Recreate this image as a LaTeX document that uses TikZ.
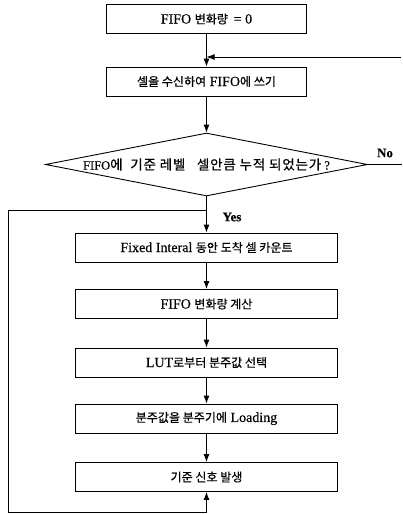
\documentclass[tikz,border=0pt]{standalone}
\usepackage{fontspec}
\setmainfont[FakeBold=0.4]{Liberation Serif}
\newfontfamily\krfont[Scale=0.86,FakeBold=0.5]{Noto Sans CJK KR}
\newfontfamily\krdfont[Scale=1.08,FakeBold=0.5,LetterSpace=6]{Noto Sans CJK KR}
\newcommand\K[1]{{\krfont #1}}
\newcommand\KD[1]{{\krdfont #1}}
\usetikzlibrary{shapes.geometric,arrows.meta}
\begin{document}
\begin{tikzpicture}[x=1pt,y=-1pt,
  every node/.style={font=\fontsize{14}{16}\selectfont},
  box/.style={draw,line width=0.9pt,inner sep=0pt,minimum height=29pt},
  narrowbox/.style={box,minimum width=200pt},
  widebox/.style={box,minimum width=262pt},
  decision/.style={draw,line width=0.9pt,diamond,aspect=5.1,inner sep=0pt,minimum width=322pt,minimum height=63pt,font=\fontsize{12.5}{14}\selectfont},
  flow/.style={line width=0.9pt,-{Latex[length=8pt,width=6pt]}},
  plain/.style={line width=0.9pt},
  lbl/.style={font=\fontsize{13}{15}\selectfont\bfseries}]
\useasboundingbox (0,0) rectangle (402,514);
\node[narrowbox] (b1) at (206.5,19) {FIFO \K{변화량} \,= 0};
\node[narrowbox] (b2) at (206.5,81.5) {\K{셀을 수신하여} FIFO\K{에 쓰기}};
\node[decision] (d) at (206.5,164.5) {FIFO\KD{에\ \ 기준\ 레벨\ \ \ 셀안큼\ 누적\ 되었는가}\ ?};
\node[widebox] (b3) at (206.5,247.5) {Fixed Interal \K{동안 도착 셀 카운트}};
\node[widebox] (b4) at (206.5,304) {FIFO \K{변화량 계산}};
\node[widebox] (b5) at (206.5,362.5) {LUT\K{로부터 분주값 선택}};
\node[widebox] (b6) at (206.5,418.5) {\K{분주값을 분주기에} Loading};
\node[widebox] (b7) at (206.5,477) {\K{기준 신호 발생}};
\coordinate (m) at (206.5,57);
\coordinate (r) at (401,57);
\coordinate (no) at (402,164.5);
\coordinate (j) at (206.5,210);
\coordinate (lt) at (8,210);
\coordinate (lb) at (8,512);
\coordinate (bb) at (206.5,512);
\draw[flow] (b1) -- (b2);
\draw[flow] (r) -- (m);
\draw[flow] (b2) -- (d);
\draw[plain] (d.east) -- (no);
\node[lbl] (nolbl) at (385,153) {No};
\draw[flow] (d) -- (b3);
\node[lbl] (yeslbl) at (232,217) {Yes};
\draw[flow] (b3) -- (b4);
\draw[flow] (b4) -- (b5);
\draw[flow] (b5) -- (b6);
\draw[flow] (b6) -- (b7);
\draw[flow] (j) -- (lt) -- (lb) -- (bb) -- (b7);
\end{tikzpicture}
\end{document}
